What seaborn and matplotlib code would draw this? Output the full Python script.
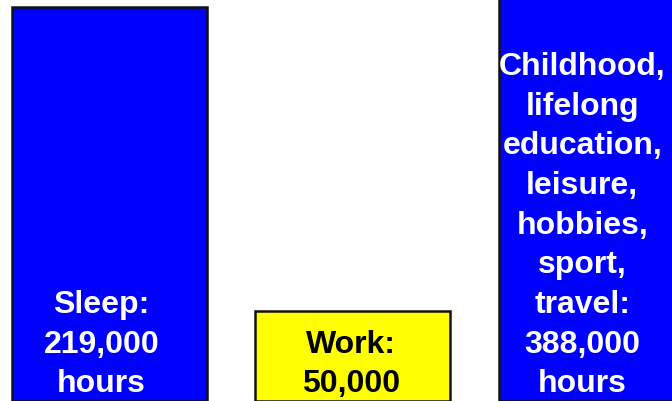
import matplotlib
matplotlib.use("Agg")
import matplotlib.pyplot as plt
import pandas as pd
import seaborn as sns

# lifetime hours
activities = ["Sleep", "Work", "Other"]
hours = [219000, 50000, 388000]
bar_colors = ["#0000FF", "#FFFF00", "#0000FF"]
labels = [
    "Sleep:\n219,000\nhours",
    "Work:\n50,000",
    "Childhood,\nlifelong\neducation,\nleisure,\nhobbies,\nsport,\ntravel:\n388,000\nhours",
]
label_colors = ["white", "black", "white"]
label_shift = [-8, -2, -14]  # points, text sits a bit left of bar centre

sns.set_style("white")
plt.rcParams["font.family"] = ["Liberation Sans", "DejaVu Sans"]

df = pd.DataFrame({"activity": activities, "hours": hours})

fig = plt.figure(figsize=(6.72, 4.02), dpi=100)
ax = fig.add_axes([0, 0, 1, 1])

sns.barplot(data=df, x="activity", y="hours", hue="activity",
            palette=bar_colors, saturation=1, width=0.8, edgecolor="#111111",
            linewidth=1.8, legend=False, ax=ax)

# the tall bar runs off the top of the frame
ax.set_ylim(0, hours[0] * 402 / 394)
ax.set_xlim(-0.449, 2.311)
ax.axis("off")

for i, (txt, col, dx) in enumerate(zip(labels, label_colors, label_shift)):
    ax.annotate(txt, xy=(i, 0.0), xycoords=("data", "axes fraction"),
                xytext=(dx * 0.72, 2), textcoords="offset points",
                ha="center", va="bottom", color=col, fontsize=23,
                fontweight="bold", linespacing=1.42)

fig.savefig("out.png", dpi=100)
